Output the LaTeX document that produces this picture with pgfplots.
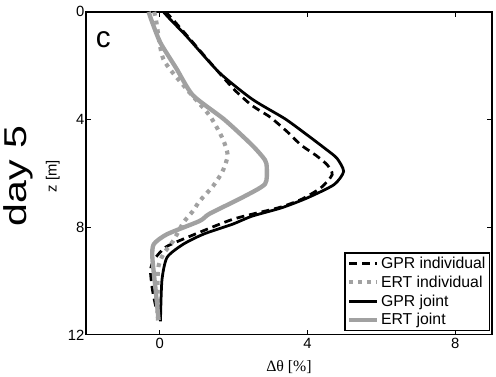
\documentclass[border=0pt]{standalone}
\usepackage{fontspec}
\setmainfont{Liberation Sans}
\newfontfamily\seriffont{Liberation Serif}
\usepackage{pgfplots}
\pgfplotsset{compat=1.18}
\definecolor{ertgray}{gray}{0.63}
\begin{document}
\begin{tikzpicture}
\begin{axis}[
  at={(0,0)}, anchor=south west,
  scale only axis, width=410bp, height=326bp,
  xmin=-2, xmax=9, ymin=0, ymax=12, y dir=reverse,
  xtick={0,4,8}, ytick={0,4,8,12},
  tick align=inside, major tick length=5bp,
  axis line style={line width=1.3pt},
  every tick/.style={black, line width=1pt},
  tick label style={font=\fontsize{15}{15}\selectfont},
  /pgf/number format/assume math mode=true,
  yticklabel style={xshift=2bp},
  legend style={at={(axis description cs:0.995,0.012)}, anchor=south east,
    draw=black, line width=1.2pt, font=\fontsize{16}{20}\selectfont,
    inner sep=2pt, row sep=2pt},
  legend cell align=left,
  legend image code/.code={\draw[#1] (0bp,0bp) -- (28bp,0bp);},
]
\addplot[black, line width=2.8pt, dash pattern=on 8bp off 5bp, smooth, tension=0.4] coordinates {
(0.15,0) (0.3,0.2) (0.75,0.9) (1.6,2.25) (2.05,2.93) (2.5,3.48) (2.99,3.91)
(3.45,4.45) (3.83,4.95) (4.25,5.35) (4.54,5.69) (4.67,6.05) (4.36,6.54) (3.83,6.97)
(3.21,7.28) (1.97,7.71) (0.64,8.44) (0.15,8.75) (-0.15,9.2) (-0.25,9.6)
(-0.2,10.3) (-0.1,11.0) (0,11.5)};
\addlegendentry{GPR individual}
\addplot[ertgray, line width=4.2pt, dash pattern=on 4bp off 5bp, smooth, tension=0.4] coordinates {
(-0.15,0) (-0.1,0.3) (0.1,1.76) (0.73,2.87) (1.35,3.85) (1.7,4.7) (1.84,5.32)
(1.7,5.93) (1.44,6.48) (1.08,7.03) (0.9,7.4) (0.64,7.83) (0.37,8.5) (0.1,9.0)
(-0.05,9.6) (-0.05,11.5)};
\addlegendentry{ERT individual}
\addplot[black, line width=2.8pt, smooth, tension=0.4] coordinates {
(0.1,0) (0.3,0.3) (0.73,0.91) (1.61,2.25) (2.5,3.24) (3.39,3.97) (4.0,4.58)
(4.5,5.1) (4.8,5.44) (4.98,5.93) (4.72,6.42) (4.0,6.91) (3.3,7.28) (2.5,7.59)
(1.97,7.89) (1.2,8.25) (0.64,8.63) (0.2,9.12) (0.06,9.97) (0.02,11.5)};
\addlegendentry{GPR joint}
\addplot[ertgray, line width=4.4pt, smooth, tension=0.4] coordinates {
(-0.3,0) (-0.2,0.4) (0.02,1.15) (0.45,2.1) (0.9,3.1) (1.75,4.0) (2.5,4.95)
(2.85,5.5) (2.9,5.8) (2.85,6.4) (2.23,6.9) (1.35,7.5) (1.08,7.77) (0.2,8.26)
(-0.16,8.63) (-0.2,9.12) (-0.11,10.34) (-0.03,11.45)};
\addlegendentry{ERT joint}
\end{axis}
\node at (17.5bp,298bp) {\fontsize{30}{30}\selectfont c};
\node[rotate=90] at (-68.5bp,160bp) {\scalebox{1.3}[1]{\fontsize{32}{32}\selectfont day 5}};
\node[rotate=90] at (-33.5bp,160bp) {\fontsize{15}{15}\selectfont z [m]};
\node at (205bp,-32bp) {\seriffont\fontsize{16}{16}\selectfont Δθ [\%]};
\path[use as bounding box] (-82bp,-38bp) rectangle (414bp,338bp);
\end{tikzpicture}
\end{document}
